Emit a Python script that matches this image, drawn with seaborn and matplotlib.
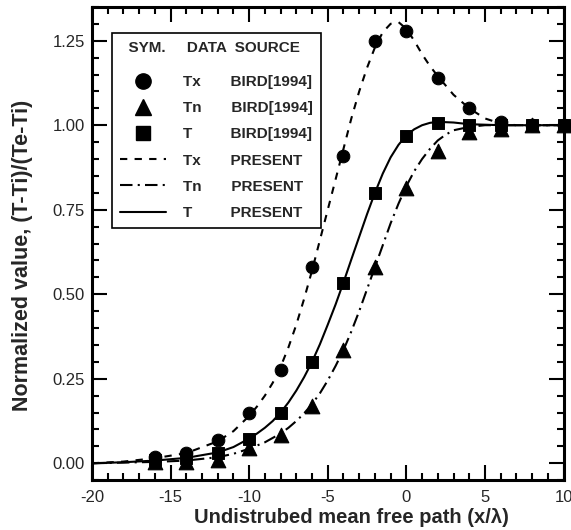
import matplotlib
matplotlib.use("Agg")
import matplotlib.pyplot as plt
from matplotlib.lines import Line2D
from matplotlib.ticker import MultipleLocator
import seaborn as sns

# BIRD [1994] data points
bird_x = [-16, -14, -12, -10, -8, -6, -4, -2, 0, 2, 4, 6, 8, 10]
bird_Tx = [0.02, 0.03, 0.07, 0.15, 0.275, 0.58, 0.91, 1.25, 1.28, 1.14, 1.05, 1.01, 1.0, 1.0]
bird_Tn = [0.004, 0.005, 0.011, 0.045, 0.085, 0.17, 0.335, 0.58, 0.815, 0.925, 0.98, 0.99, 1.0, 1.0]
bird_T = [0.01, 0.015, 0.03, 0.073, 0.15, 0.30, 0.533, 0.80, 0.967, 1.007, 1.0, 1.0, 1.0, 1.0]

# present results (curves)
tx_x = [-20, -18, -16, -14, -12, -11, -10, -9.5, -9, -8.5, -8, -7.5, -7, -6.5, -6, -5.5, -5, -4.5, -4,
        -3.5, -3, -2.5, -2, -1.5, -1, -0.5, 0, 0.5, 1, 1.5, 2, 3, 4, 5, 6, 7, 8, 10]
tx_y = [0.0, 0.005, 0.015, 0.03, 0.065, 0.095, 0.14, 0.168, 0.2, 0.238, 0.285, 0.343, 0.41, 0.487, 0.57,
        0.66, 0.75, 0.84, 0.93, 1.02, 1.1, 1.17, 1.23, 1.275, 1.3, 1.305, 1.285, 1.25, 1.21, 1.175,
        1.145, 1.09, 1.05, 1.02, 1.005, 1.0, 1.0, 1.0]

t_x = [-20, -18, -16, -14, -12, -11, -10, -9.5, -9, -8.5, -8, -7.5, -7, -6.5, -6, -5.5, -5, -4.5, -4,
       -3.5, -3, -2.5, -2, -1.5, -1, -0.5, 0, 0.5, 1, 1.5, 2, 3, 4, 6, 8, 10]
t_y = [0.0, 0.003, 0.008, 0.016, 0.032, 0.048, 0.073, 0.088, 0.105, 0.125, 0.15, 0.18, 0.215, 0.255,
       0.30, 0.352, 0.41, 0.47, 0.535, 0.603, 0.67, 0.737, 0.80, 0.857, 0.905, 0.942, 0.97, 0.988,
       1.0, 1.007, 1.01, 1.008, 1.003, 1.0, 1.0, 1.0]

tn_x = [-20, -18, -16, -14, -12, -11, -10, -9, -8, -7.5, -7, -6.5, -6, -5.5, -5, -4.5, -4, -3.5, -3,
        -2.5, -2, -1.5, -1, -0.5, 0, 0.5, 1, 1.5, 2, 2.5, 3, 4, 5, 6, 8, 10]
tn_y = [0.0, 0.002, 0.004, 0.008, 0.018, 0.028, 0.043, 0.062, 0.088, 0.105, 0.125, 0.148, 0.175, 0.207,
        0.245, 0.288, 0.335, 0.39, 0.45, 0.515, 0.58, 0.645, 0.71, 0.768, 0.82, 0.864, 0.9, 0.93,
        0.955, 0.972, 0.985, 0.995, 1.0, 1.0, 1.0, 1.0]

sns.set_theme(style="ticks")
plt.rcParams['font.family'] = ['Liberation Sans', 'DejaVu Sans']
plt.rcParams['axes.unicode_minus'] = False

fig = plt.figure(figsize=(5.71, 5.30), dpi=100)
ax = fig.add_axes([0.161, 0.094, 0.826, 0.893])

dash_tx = (0, (3.5, 3.5))
dash_tn = (0, (6, 2.5, 1, 2.5))

sns.lineplot(x=tx_x, y=tx_y, ax=ax, color='black', lw=1.5, linestyle=dash_tx, sort=False)
sns.lineplot(x=tn_x, y=tn_y, ax=ax, color='black', lw=1.5, linestyle=dash_tn, sort=False)
sns.lineplot(x=t_x, y=t_y, ax=ax, color='black', lw=1.5, linestyle='-', sort=False)

sns.scatterplot(x=bird_x, y=bird_Tx, ax=ax, marker='o', s=83, color='black', edgecolor='black', clip_on=False, zorder=5)
sns.scatterplot(x=bird_x, y=bird_Tn, ax=ax, marker='^', s=110, color='black', edgecolor='black', clip_on=False, zorder=5)
sns.scatterplot(x=bird_x, y=bird_T, ax=ax, marker='s', s=71, color='black', edgecolor='black', clip_on=False, zorder=5)

ax.set_xlim(-20, 10)
ax.set_ylim(-0.05, 1.35)
ax.xaxis.set_major_locator(MultipleLocator(5))
ax.xaxis.set_minor_locator(MultipleLocator(1))
ax.yaxis.set_major_locator(MultipleLocator(0.25))
ax.yaxis.set_minor_locator(MultipleLocator(0.05))
ax.set_yticks([0, 0.25, 0.5, 0.75, 1.0, 1.25])
ax.set_yticklabels(['0.00', '0.25', '0.50', '0.75', '1.00', '1.25'])

ax.tick_params(which='both', direction='in', top=True, right=True, color='black', width=1.5)
ax.tick_params(which='major', length=11, labelsize=12, pad=5)
ax.tick_params(which='minor', length=5)
ax.tick_params(axis='x', which='major', pad=7)
for s in ax.spines.values():
    s.set_linewidth(2.2)
    s.set_color('black')

ax.set_xlabel('Undistrubed mean free path (x/\u03bb)', fontsize=14.5, fontweight='bold')
ax.set_ylabel('Normalized value, (T-Ti)/(Te-Ti)', fontsize=15.5, fontweight='bold')
ax.xaxis.set_label_coords(0.55, -0.058)
ax.yaxis.set_label_coords(-0.125, 0.476)

handles = [
    Line2D([], [], marker='o', ls='none', color='black', markersize=11),
    Line2D([], [], marker='^', ls='none', color='black', markersize=12),
    Line2D([], [], marker='s', ls='none', color='black', markersize=10.5),
    Line2D([], [], color='black', lw=1.5, ls=dash_tx),
    Line2D([], [], color='black', lw=1.5, ls=dash_tn),
    Line2D([], [], color='black', lw=1.5, ls='-'),
]
labels = [
    'Tx       BIRD[1994]',
    'Tn       BIRD[1994]',
    'T         BIRD[1994]',
    'Tx       PRESENT',
    'Tn       PRESENT',
    'T         PRESENT',
]
leg = ax.legend(handles, labels, loc='upper left', bbox_to_anchor=(0.042, 0.945),
                borderaxespad=0, frameon=True, fancybox=False, framealpha=1,
                edgecolor='black', handlelength=3.0, handletextpad=1.1,
                labelspacing=0.8, borderpad=0.55,
                title='  SYM.     DATA  SOURCE\n', alignment='left',
                prop={'size': 11, 'weight': 'bold'},
                title_fontproperties={'size': 11, 'weight': 'bold'})
leg.get_title().set_linespacing(0.4)
leg.get_frame().set_linewidth(1.2)

plt.savefig('out.png', dpi=100)
